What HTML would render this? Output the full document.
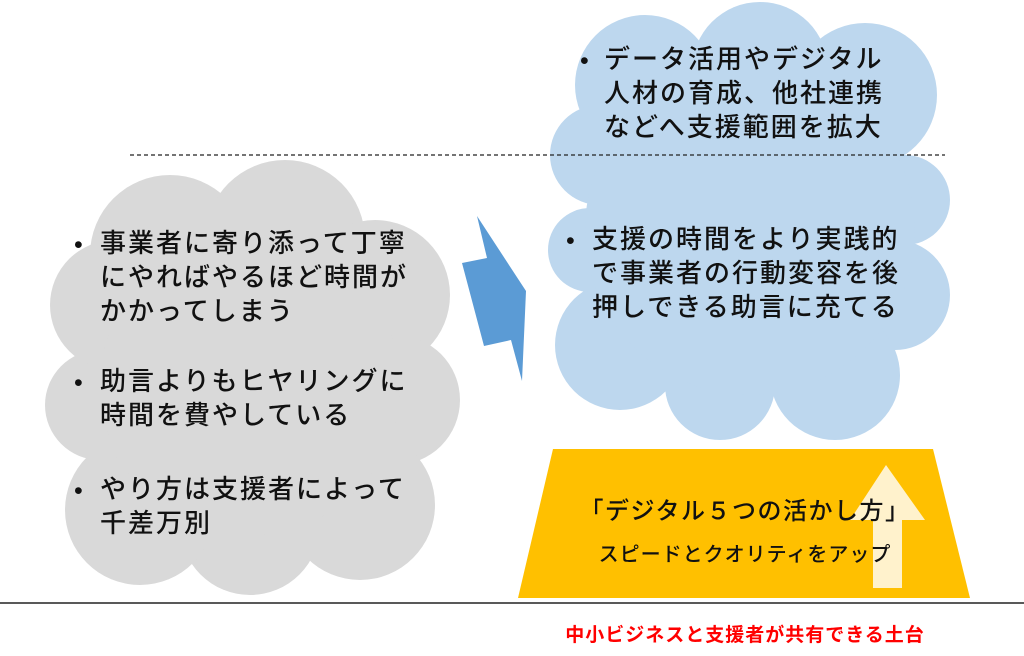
<!DOCTYPE html>
<html><head><meta charset="utf-8"><style>
body{margin:0;width:1024px;height:656px;background:#fff;position:relative;overflow:hidden;font-family:"Liberation Sans","Noto Sans CJK JP",sans-serif;color:#111}
.t{position:absolute;font-size:26px;line-height:34px;white-space:nowrap;font-weight:500;letter-spacing:2px}
.b{position:absolute;font-size:25px;line-height:34px}
</style></head><body>
<svg width="1024" height="656" style="position:absolute;left:0;top:0">
<g fill="#d9d9d9">
<circle cx="170" cy="255" r="80"/><circle cx="285" cy="240" r="80"/><circle cx="375" cy="295" r="75"/>
<circle cx="395" cy="400" r="65"/><circle cx="360" cy="505" r="75"/><circle cx="250" cy="525" r="70"/>
<circle cx="140" cy="510" r="75"/><circle cx="100" cy="405" r="55"/><circle cx="115" cy="305" r="65"/>
<circle cx="250" cy="385" r="150"/>
</g>
<g fill="#bdd7ee">
<circle cx="645" cy="85" r="70"/><circle cx="760" cy="70" r="68"/><circle cx="865" cy="95" r="72"/>
<circle cx="905" cy="200" r="45"/><circle cx="895" cy="295" r="55"/><circle cx="835" cy="375" r="65"/>
<circle cx="720" cy="385" r="55"/><circle cx="620" cy="345" r="65"/><circle cx="590" cy="250" r="42"/>
<circle cx="600" cy="155" r="50"/><circle cx="750" cy="230" r="165"/>
</g>
<line x1="130" y1="155" x2="945" y2="155" stroke="#222" stroke-width="1.3" stroke-dasharray="4,3"/>
<polygon points="477,216 487,258 462,263 484,346 511,340 522,381 526,291" fill="#5b9bd5"/>
<polygon points="553,449 933,449 970,598 518,598" fill="#ffc000"/>
<polygon points="886,465 925,520 902,520 902,588 873,588 873,520 850,520" fill="#fff2cc"/>
<line x1="0" y1="603" x2="1024" y2="603" stroke="#222" stroke-width="1.5"/>
</svg>
<div class="b" style="left:74px;top:228px">•</div>
<div class="t" style="left:100px;top:226px">事業者に寄り添って丁寧<br>にやればやるほど時間が<br>かかってしまう</div>
<div class="b" style="left:74px;top:366px">•</div>
<div class="t" style="left:100px;top:364px">助言よりもヒヤリングに<br>時間を費やしている</div>
<div class="b" style="left:74px;top:474px">•</div>
<div class="t" style="left:100px;top:472px">やり方は支援者によって<br>千差万別</div>
<div class="b" style="left:580px;top:44px">•</div>
<div class="t" style="left:604px;top:42px;letter-spacing:2px">データ活用やデジタル<br>人材の育成、他社連携<br>などへ支援範囲を拡大</div>
<div class="b" style="left:566px;top:224px">•</div>
<div class="t" style="left:592px;top:222px">支援の時間をより実践的<br>で事業者の行動変容を後<br>押しできる助言に充てる</div>
<div style="position:absolute;left:545px;top:491px;width:400px;text-align:center;font-size:24px;font-weight:500;letter-spacing:1.5px">「デジタル５つの活かし方」</div>
<div style="position:absolute;left:545px;top:538px;width:400px;text-align:center;font-size:20px;font-weight:500;letter-spacing:1px">スピードとクオリティをアップ</div>
<div style="position:absolute;left:545px;top:620px;width:400px;text-align:center;font-size:19px;font-weight:bold;color:#ff0000;letter-spacing:1px">中小ビジネスと支援者が共有できる土台</div>
</body></html>
